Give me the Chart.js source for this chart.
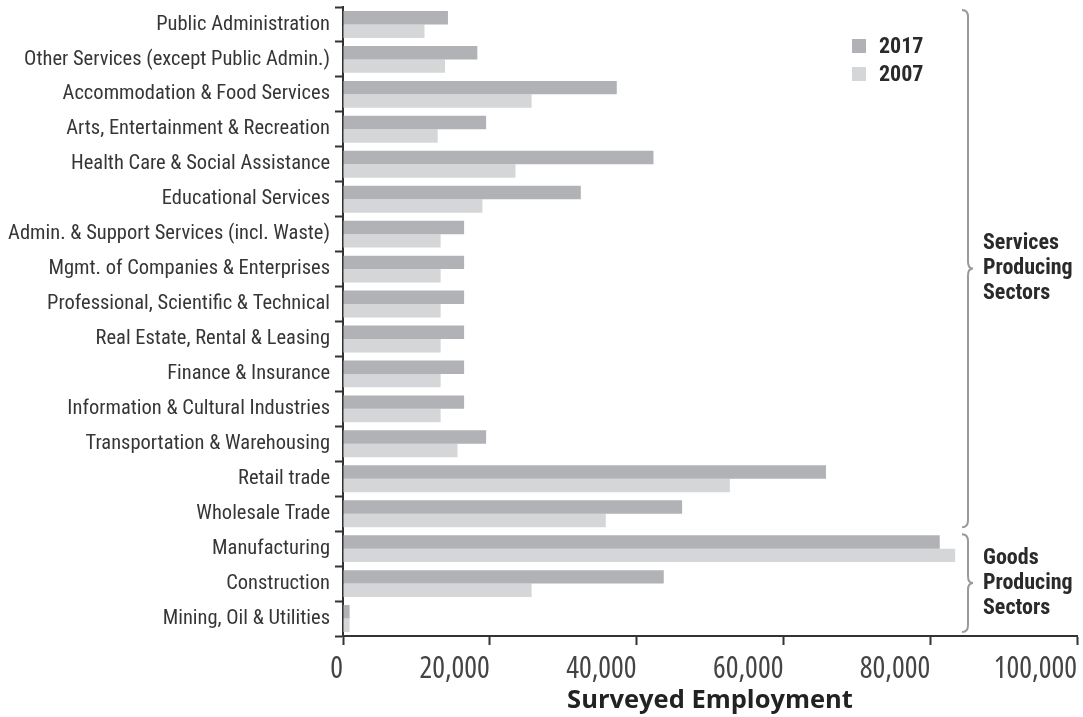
<!DOCTYPE html>
<html>
<head>
<meta charset="utf-8">
<script src="https://cdn.jsdelivr.net/npm/chart.js@4.4.1/dist/chart.umd.min.js"></script>
<style>
    html, body { margin: 0; padding: 0; background: #fff; }
    #wrap { width: 1083px; height: 717px; }
</style>
</head>
<body>
<div id="wrap"><canvas id="chart" width="1083" height="717"></canvas></div>
<script>
// --- data ---
const categories = [
    'Public Administration',
    'Other Services (except Public Admin.)',
    'Accommodation & Food Services',
    'Arts, Entertainment & Recreation',
    'Health Care & Social Assistance',
    'Educational Services',
    'Admin. & Support Services (incl. Waste)',
    'Mgmt. of Companies & Enterprises',
    'Professional, Scientific & Technical',
    'Real Estate, Rental & Leasing',
    'Finance & Insurance',
    'Information & Cultural Industries',
    'Transportation & Warehousing',
    'Retail trade',
    'Wholesale Trade',
    'Manufacturing',
    'Construction',
    'Mining, Oil & Utilities'
];
const employment2017 = [14300, 18300, 37300, 19500, 42300, 32400, 16500, 16500, 16500, 16500, 16500, 16500, 19500, 65800, 46200, 81300, 43700, 900];
const employment2007 = [11100, 13900, 25700, 12900, 23500, 19000, 13300, 13300, 13300, 13300, 13300, 13300, 15600, 52700, 35800, 83400, 25700, 900];
const xTickValues = [0, 20000, 40000, 60000, 80000, 100000];
const sectorGroups = [
    { lines: ['Services', 'Producing', 'Sectors'], first: 0, last: 14 },
    { lines: ['Goods', 'Producing', 'Sectors'], first: 15, last: 17 }
];

const CONDENSED = '"Roboto Condensed", "Open Sans", sans-serif';

// legend + sector braces drawn on top of the plot
const decorations = {
    id: 'decorations',
    afterDraw(chart) {
        const ctx = chart.ctx;
        const area = chart.chartArea;
        const y = chart.scales.y;
        const half = (y.getPixelForValue(1) - y.getPixelForValue(0)) / 2;

        // legend
        ctx.save();
        ctx.font = 'bold 22px ' + CONDENSED;
        ctx.textBaseline = 'middle';
        chart.data.datasets.forEach((ds, i) => {
            const cy = area.top + 39 + i * 28;
            ctx.fillStyle = ds.backgroundColor;
            ctx.fillRect(area.left + 509, cy - 7, 14, 14);
            ctx.fillStyle = '#2a2a2a';
            ctx.fillText(ds.label, area.left + 536, cy + 1);
        });

        // braces
        const bx = area.right - 109;
        sectorGroups.forEach(g => {
            const y1 = y.getPixelForValue(g.first) - half + 3;
            const y2 = y.getPixelForValue(g.last) + half - 4;
            const mid = (y1 + y2) / 2;
            ctx.strokeStyle = '#9a9a9a';
            ctx.lineWidth = 2;
            ctx.beginPath();
            ctx.moveTo(bx - 6, y1);
            ctx.quadraticCurveTo(bx, y1, bx, y1 + 7);
            ctx.lineTo(bx, mid - 7);
            ctx.quadraticCurveTo(bx, mid, bx + 5, mid);
            ctx.quadraticCurveTo(bx, mid, bx, mid + 7);
            ctx.lineTo(bx, y2 - 7);
            ctx.quadraticCurveTo(bx, y2, bx - 6, y2);
            ctx.stroke();

            ctx.fillStyle = '#2a2a2a';
            ctx.font = 'bold 22px ' + CONDENSED;
            ctx.textBaseline = 'middle';
            g.lines.forEach((t, k) => {
                ctx.fillText(t, bx + 15, mid + (k - 1) * 25);
            });
        });
        ctx.restore();
    }
};

new Chart(document.getElementById('chart'), {
    type: 'bar',
    data: {
        labels: categories,
        datasets: [
            { label: '2017', data: employment2017, backgroundColor: '#b1b2b6' },
            { label: '2007', data: employment2007, backgroundColor: '#d5d6d8' }
        ]
    },
    options: {
        indexAxis: 'y',
        responsive: false,
        animation: false,
        categoryPercentage: 0.77,
        barPercentage: 1.0,
        layout: { padding: { top: 7, right: 6, bottom: 1, left: 8 } },
        plugins: {
            legend: { display: false },
            tooltip: { enabled: false }
        },
        scales: {
            x: {
                min: 0,
                max: 100000,
                afterBuildTicks(scale) {
                    scale.ticks = xTickValues.map(v => ({ value: v }));
                },
                afterFit(scale) {
                    scale.height = 80;
                    scale.paddingLeft = 0;
                    scale.paddingRight = 0;
                },
                ticks: {
                    font: { family: '"Open Sans", sans-serif', size: 30, weight: 'condensed' },
                    color: '#444',
                    padding: 6,
                    align: 'end',
                    maxRotation: 0,
                    callback: v => v.toLocaleString('en-US')
                },
                grid: { drawOnChartArea: false, drawTicks: true, tickLength: 9, tickColor: '#333', tickWidth: 2 },
                border: { display: true, color: '#333', width: 2 },
                title: {
                    display: true,
                    text: 'Surveyed Employment',
                    font: { family: '"Open Sans", sans-serif', size: 25.5, weight: 'bold' },
                    color: '#222',
                    padding: { top: 0, bottom: 0 }
                }
            },
            y: {
                afterFit(scale) {
                    scale.width = 335;
                    scale.paddingTop = 0;
                    scale.paddingBottom = 0;
                },
                ticks: {
                    font: { family: CONDENSED, size: 20.5 },
                    color: '#363636',
                    padding: 5
                },
                grid: { offset: true, drawOnChartArea: false, drawTicks: true, tickLength: 8, tickColor: '#333', tickWidth: 2 },
                border: { display: true, color: '#333', width: 2 }
            }
        }
    },
    plugins: [decorations]
});
</script>
</body>
</html>
